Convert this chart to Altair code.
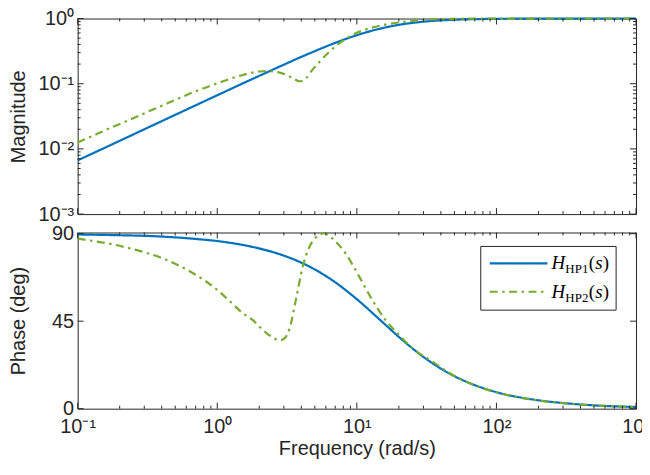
import altair as alt
import pandas as pd

# ---------------- values ----------------
# H_HP1(s): frequency (rad/s), magnitude, phase (deg)
w_hp1 = [0.1, 0.2, 0.3, 0.5, 0.7, 1, 1.5, 2, 3, 4, 5, 7, 10, 15, 20, 30, 50, 70,
         100, 200, 300, 500, 1000]
mag_hp1 = [0.00667, 0.0133, 0.020, 0.0333, 0.0466, 0.0665, 0.0995, 0.132, 0.196,
           0.258, 0.316, 0.423, 0.555, 0.707, 0.80, 0.894, 0.958, 0.978, 0.989,
           0.997, 0.9988, 0.9996, 0.9999]
phase_hp1 = [89.6, 89.2, 88.9, 88.1, 87.3, 86.2, 84.3, 82.4, 78.7, 75.1, 71.6,
             65.0, 56.3, 45.0, 36.9, 26.6, 16.7, 12.1, 8.5, 4.3, 2.9, 1.7, 0.86]

# H_HP2(s): magnitude
w_hp2_mag = [0.1, 0.137, 0.181, 0.238, 0.312, 0.41, 0.539, 0.71, 0.933, 1.23, 1.5,
             1.75, 2.0, 2.25, 2.5, 2.8, 3.11, 3.5, 3.87, 4.05, 4.32, 4.8, 5.37, 7.06,
             9.29, 12.2, 16.0, 21.1, 27.7, 48.0, 100, 300, 1000]
mag_hp2 = [0.0125, 0.0169, 0.0220, 0.0283, 0.0365, 0.0470, 0.0605, 0.0775, 0.0960,
           0.1185, 0.135, 0.147, 0.154, 0.156, 0.154, 0.148, 0.137, 0.121, 0.109,
           0.110, 0.121, 0.163, 0.214, 0.377, 0.561, 0.703, 0.806, 0.883, 0.934,
           0.99, 0.998, 1.0, 1.0]

# H_HP2(s): phase
w_hp2_ph = [0.1, 0.137, 0.181, 0.238, 0.312, 0.41, 0.539, 0.71, 0.933, 1.23, 1.5,
            1.8, 2.12, 2.45, 2.79, 3.05, 3.29, 3.66, 4.09, 4.56, 5.37, 5.83, 6.68,
            8.31, 10.4, 12.9, 16.0, 20.0, 24.9, 34.5, 48.0, 70, 100, 200, 300, 500,
            1000]
phase_hp2 = [87.5, 85.9, 84.4, 82.4, 80.1, 77.2, 73.4, 68.6, 62.8, 55.3, 49.5, 45.5,
             40.5, 37.0, 35.1, 36.3, 41.0, 56.0, 73.0, 83.0, 89.3, 90.3, 87.5, 79.8,
             67.9, 55.9, 45.7, 38.0, 31.2, 24.4, 17.6, 12.0, 8.4, 4.2, 2.8, 1.7, 0.8]

series_names = ["HP1", "HP2"]
series_colors = ["#0072BD", "#77AC30"]
series_dash = [[1, 0], [8, 4.5, 2.5, 4.5]]

x_ticks_major = [0.1, 1, 10, 100, 1000]
x_ticks_minor = [m * d for d in [0.1, 1, 10, 100] for m in range(2, 10)]
mag_ticks_major = [0.001, 0.01, 0.1, 1]
mag_ticks_minor = [m * d for d in [0.001, 0.01, 0.1] for m in range(2, 10)]
phase_ticks = [0, 45, 90]

# ---------------- layout ----------------
W = 561
H1 = 196.5
H2 = 177
INK = "#262626"
MAJ, MIN = 6, 3
FS = 20

mag_df = pd.concat([
    pd.DataFrame({"w": w_hp1, "v": mag_hp1, "series": "HP1"}),
    pd.DataFrame({"w": w_hp2_mag, "v": mag_hp2, "series": "HP2"}),
])
ph_df = pd.concat([
    pd.DataFrame({"w": w_hp1, "v": phase_hp1, "series": "HP1"}),
    pd.DataFrame({"w": w_hp2_ph, "v": phase_hp2, "series": "HP2"}),
])

xs = alt.Scale(type="log", domain=[0.1, 1000], nice=False)
ys_mag = alt.Scale(type="log", domain=[0.001, 1], nice=False)
ys_ph = alt.Scale(domain=[0, 90.6], nice=False, zero=False)

color = alt.Color("series:N", scale=alt.Scale(domain=series_names, range=series_colors), legend=None)
dash = alt.StrokeDash("series:N", scale=alt.Scale(domain=series_names, range=series_dash), legend=None)

x_label_expr = ("datum.value < 0.5 ? '10⁻¹' : datum.value < 5 ? '10⁰' : "
                "datum.value < 50 ? '10¹' : datum.value < 500 ? '10²' : '10³'")
y_label_expr = ("datum.value < 0.005 ? '10⁻³' : datum.value < 0.05 ? '10⁻²' : "
                "datum.value < 0.5 ? '10⁻¹' : '10⁰'")

x_axis_bottom = alt.Axis(values=x_ticks_major, labelExpr=x_label_expr,
                         title="Frequency (rad/s)", labelPadding=8, titlePadding=2)
y_axis_mag = alt.Axis(values=mag_ticks_major, labelExpr=y_label_expr, title="Magnitude",
                      titleX=-49, titleY=H1 / 2, labelPadding=4)
y_axis_ph = alt.Axis(values=phase_ticks, title="Phase (deg)", titleX=-49,
                     titleY=H2 / 2, labelPadding=4)


def tick_layers(x_axis, yscale, y_axis, y_major, y_minor, h):
    layers = []
    for vals, ln in [(x_ticks_major, MAJ), (x_ticks_minor, MIN)]:
        d = pd.DataFrame({"w": vals})
        layers.append(alt.Chart(d).mark_rule(color=INK, strokeWidth=1).encode(
            x=alt.X("w:Q", scale=xs, axis=x_axis), y=alt.value(h), y2=alt.value(h - ln)))
        layers.append(alt.Chart(d).mark_rule(color=INK, strokeWidth=1).encode(
            x=alt.X("w:Q", scale=xs, axis=x_axis), y=alt.value(0), y2=alt.value(ln)))
    for vals, ln in [(y_major, MAJ), (y_minor, MIN)]:
        if not vals:
            continue
        d = pd.DataFrame({"v": vals})
        layers.append(alt.Chart(d).mark_rule(color=INK, strokeWidth=1).encode(
            y=alt.Y("v:Q", scale=yscale, axis=y_axis), x=alt.value(0), x2=alt.value(ln)))
        layers.append(alt.Chart(d).mark_rule(color=INK, strokeWidth=1).encode(
            y=alt.Y("v:Q", scale=yscale, axis=y_axis), x=alt.value(W), x2=alt.value(W - ln)))
    return layers


mag_lines = alt.Chart(mag_df).mark_line(strokeWidth=2.2, interpolate="monotone").encode(
    x=alt.X("w:Q", scale=xs, axis=None),
    y=alt.Y("v:Q", scale=ys_mag, axis=y_axis_mag),
    color=color, strokeDash=dash,
)

ph_lines = alt.Chart(ph_df).mark_line(strokeWidth=2.2, interpolate="monotone").encode(
    x=alt.X("w:Q", scale=xs, axis=x_axis_bottom),
    y=alt.Y("v:Q", scale=ys_ph, axis=y_axis_ph),
    color=color, strokeDash=dash,
)

# ---------------- custom legend (inside phase panel) ----------------
one = pd.DataFrame({"k": [0]})
legend_layers = [
    alt.Chart(one).mark_rect(fill="white", stroke=INK, strokeWidth=1).encode(
        x=alt.value(405), x2=alt.value(541), y=alt.value(14), y2=alt.value(78)),
]
SERIF = "Liberation Serif"
for name, col, dsh, ly in [("HP1", series_colors[0], series_dash[0], 31),
                           ("HP2", series_colors[1], series_dash[1], 59.5)]:
    legend_layers.append(alt.Chart(one).mark_rule(color=col, strokeWidth=2.2, strokeDash=dsh).encode(
        x=alt.value(414), x2=alt.value(472), y=alt.value(ly)))
    base = ly + 6
    pieces = [("H", 476, base, 19, "italic"),
              (name, 490, base + 4, 13, "normal"),
              ("(", 513.5, base, 19, "normal"),
              ("s", 520, base, 19, "italic"),
              (")", 527.5, base, 19, "normal")]
    for txt, px, py, fs, st in pieces:
        legend_layers.append(alt.Chart(one).mark_text(
            text=txt, font=SERIF, fontSize=fs, fontStyle=st, align="left",
            baseline="alphabetic", color="#000000").encode(
            x=alt.value(px), y=alt.value(py)))

top = alt.layer(mag_lines, *tick_layers(None, ys_mag, y_axis_mag, mag_ticks_major,
                                        mag_ticks_minor, H1)).properties(width=W, height=H1)
bottom = alt.layer(ph_lines, *tick_layers(x_axis_bottom, ys_ph, y_axis_ph, phase_ticks, [], H2),
                   *legend_layers).properties(width=W, height=H2)

chart = alt.vconcat(top, bottom, spacing=18, bounds="flush").properties(
    padding={"left": 0, "top": -1.5, "right": -9, "bottom": 0}
).configure_view(
    stroke=INK, strokeWidth=1
).configure_axis(
    labelFont="Liberation Sans", labelFontSize=FS, titleFont="Liberation Sans",
    titleFontSize=FS, titleFontWeight="normal", labelColor=INK, titleColor=INK,
    grid=False, domain=False, ticks=False, labelFlush=False, labelOverlap=False,
)

chart.save("out.html", embed_options={"renderer": "svg", "actions": False})
